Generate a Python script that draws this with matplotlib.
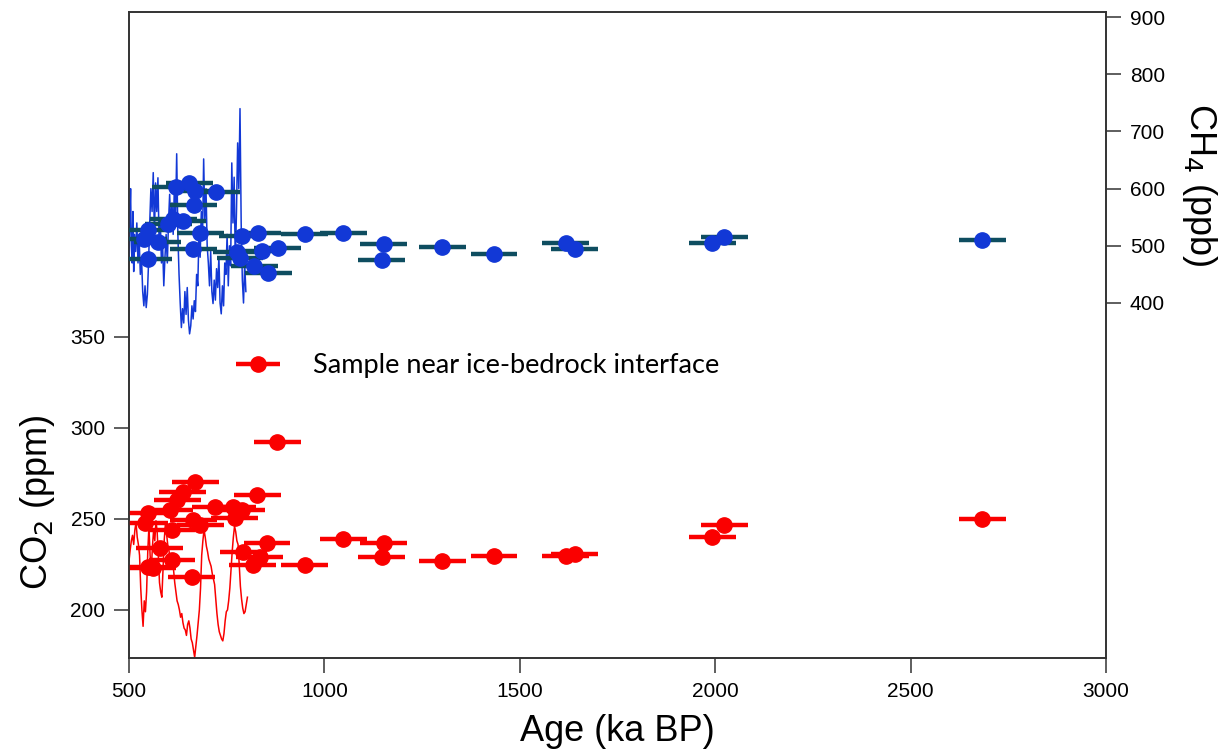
#!/usr/bin/env python3
import matplotlib

matplotlib.use("Agg")
import matplotlib.pyplot as plt
from matplotlib.container import ErrorbarContainer
from matplotlib.legend_handler import HandlerErrorbar


DPI = 100
OUT = "out.png"

# discrete samples near the ice-bedrock interface (age in ka BP)
CH4_AGE = [620, 654, 669, 723, 666, 613, 638, 600, 682, 549, 538, 574, 664, 549,
           789, 830, 776, 784, 840, 881, 820, 856, 950, 1048, 1152, 1147, 1301,
           1434, 1618, 1641, 1992, 2023, 2683]
CH4_PPB = [603, 610, 596, 594, 572, 547, 544, 538, 523, 528, 512, 507, 495, 477,
           517, 523, 490, 479, 491, 496, 465, 453, 521, 523, 503, 475, 498,
           486, 505, 495, 505, 516, 510]
CH4_AGE_ERR = [60] * len(CH4_AGE)

CO2_AGE = [669, 638, 623, 828, 720, 766, 789, 605, 549, 541, 664, 682, 610, 771,
           579, 853, 792, 835, 817, 610, 549, 561, 661, 879, 950, 1048, 1152,
           1147, 1301, 1434, 1618, 1641, 1992, 2023, 2683]
CO2_PPM = [270.3, 264.8, 260.4, 263.2, 256.6, 256.6, 255, 255, 253.3, 247.8, 249.5,
           246.7, 244, 250.5, 234, 236.8, 231.9, 229, 224.7, 227.5, 223.6, 223,
           218, 292.3, 224.7, 239, 236.8, 229, 227, 229.7, 229.7, 231, 240,
           246.7, 250]
CO2_AGE_ERR = [60] * len(CO2_AGE)

# continuous ice core records (0-800 ka)
CH4_REC_AGE = [500, 502, 504, 506, 508, 510, 512, 514, 517, 520, 523, 526, 529, 532,
               535, 538, 541, 544, 547, 550, 553, 556, 559, 562, 565, 568, 571, 574,
               577, 580, 583, 586, 589, 592, 595, 598, 601, 604, 607, 610, 613, 616,
               619, 622, 625, 628, 631, 634, 637, 640, 643, 646, 649, 652, 655, 658,
               661, 664, 667, 670, 673, 676, 679, 682, 685, 688, 691, 694, 697, 700,
               703, 706, 709, 712, 715, 718, 721, 724, 727, 730, 733, 736, 739, 742,
               745, 748, 751, 754, 757, 760, 763, 766, 769, 772, 775, 778, 781, 784,
               787, 790, 793, 796, 799]
CH4_REC_PPB = [480, 545, 600, 500, 470, 560, 455, 520, 490, 540, 470, 510, 450, 480,
               420, 395, 430, 392, 415, 470, 540, 600, 560, 628, 520, 610, 560, 619,
               505, 545, 470, 500, 430, 480, 520, 470, 540, 590, 530, 575, 520, 600,
               545, 661, 520, 450, 400, 357, 390, 365, 420, 380, 427, 370, 346, 360,
               395, 372, 404, 385, 450, 430, 520, 480, 560, 510, 652, 545, 600, 500,
               470, 430, 490, 420, 399, 440, 405, 460, 427, 480, 400, 381, 430, 395,
               470, 450, 520, 430, 500, 465, 645, 540, 620, 470, 560, 680, 600, 740,
               540, 440, 400, 470, 420]

CO2_REC_AGE = [500, 503, 506, 509, 512, 515, 518, 521, 524, 527, 530, 533, 536, 539,
               542, 545, 548, 551, 554, 557, 560, 563, 566, 569, 572, 575, 578, 581,
               584, 587, 590, 593, 596, 599, 602, 605, 608, 611, 614, 617, 620, 623,
               626, 629, 632, 635, 638, 641, 644, 647, 650, 653, 656, 659, 662, 665,
               668, 671, 674, 677, 680, 683, 686, 689, 692, 695, 698, 701, 704, 707,
               710, 713, 716, 719, 722, 725, 728, 731, 734, 737, 740, 743, 746, 749,
               752, 755, 758, 761, 764, 767, 770, 773, 776, 779, 782, 785, 788, 791,
               794, 797, 800, 803]
CO2_REC_PPM = [227, 233, 238, 241, 236, 244, 248, 240, 236, 230, 212, 200, 191, 205,
               199, 210, 232, 246, 230, 222, 235, 244, 238, 249, 243, 230, 215, 210,
               207, 222, 238, 247, 242, 236, 233, 228, 230, 224, 222, 215, 210, 205,
               203, 200, 196, 198, 193, 190, 189, 186, 192, 194, 190, 184, 182, 178,
               174, 180, 186, 193, 200, 212, 230, 238, 244, 240, 235, 232, 228, 226,
               224, 220, 217, 214, 206, 198, 192, 188, 186, 184, 183, 187, 194, 199,
               200, 205, 212, 222, 232, 240, 246, 243, 238, 236, 225, 213, 206, 201,
               198, 199, 203, 207]

X_TICKS = [500, 1000, 1500, 2000, 2500, 3000]
CO2_TICKS = [200, 250, 300, 350]
CH4_TICKS = [400, 500, 600, 700, 800, 900]

RED = "#fa0000"
BLUE = "#1238d6"
BLUE_BAR = "#0e4d60"
SPINE = "#333333"
AXIS_FONT = "Liberation Sans"


def style_axis(ax):
    for spine in ax.spines.values():
        spine.set_color(SPINE)
        spine.set_linewidth(1.2)
    ax.tick_params(length=11, width=1.1, color=SPINE, labelsize=15, pad=6)


def main():
    plt.rcParams["font.family"] = [AXIS_FONT, "DejaVu Sans"]
    fig = plt.figure(figsize=(12.31, 7.5), dpi=DPI)
    ax = fig.add_axes([0.1048, 0.1227, 0.7937, 0.8613])
    ax2 = ax.twinx()

    # CO2 on the left axis
    ax.plot(CO2_REC_AGE, CO2_REC_PPM, color=RED, lw=1.1, zorder=2)
    co2 = ax.errorbar(CO2_AGE, CO2_PPM, xerr=CO2_AGE_ERR, fmt="o", color=RED,
                      ms=11, elinewidth=3.2, capsize=0, zorder=3,
                      label="Sample near ice-bedrock interface")

    # CH4 on the right axis
    ax2.plot(CH4_REC_AGE, CH4_REC_PPB, color=BLUE, lw=1.1, zorder=2)
    ax2.errorbar(CH4_AGE, CH4_PPB, xerr=CH4_AGE_ERR, fmt="o", color=BLUE,
                 ecolor=BLUE_BAR, ms=11, elinewidth=3.2, capsize=0, zorder=3)

    ax.set_xlim(500, 3000)
    ax.set_ylim(173.6, 528.6)
    ax2.set_ylim(-221, 909)
    ax.set_xticks(X_TICKS)
    ax.set_yticks(CO2_TICKS)
    ax2.set_yticks(CH4_TICKS)
    style_axis(ax)
    style_axis(ax2)

    ax.set_xlabel("Age (ka BP)", fontsize=26, labelpad=10)
    ax.set_ylabel("CO$_2$ (ppm)", fontsize=26)
    ax.yaxis.set_label_coords(-0.094, 0.241)
    ax.yaxis.label.set_verticalalignment("center")
    ax2.set_ylabel("CH$_4$ (ppb)", fontsize=26, rotation=270)
    ax2.yaxis.set_label_coords(1.096, 0.732)
    ax2.yaxis.label.set_verticalalignment("center")

    ax.legend(handles=[co2], loc="center left", bbox_to_anchor=(0.1095, 0.452),
              frameon=False, borderpad=0, borderaxespad=0, handlelength=1.63,
              handletextpad=1.22, prop={"family": "Lato", "size": 19.5},
              handler_map={ErrorbarContainer: HandlerErrorbar(xerr_size=0.8)})

    fig.savefig(OUT, dpi=DPI)
    plt.close(fig)


if __name__ == "__main__":
    main()
